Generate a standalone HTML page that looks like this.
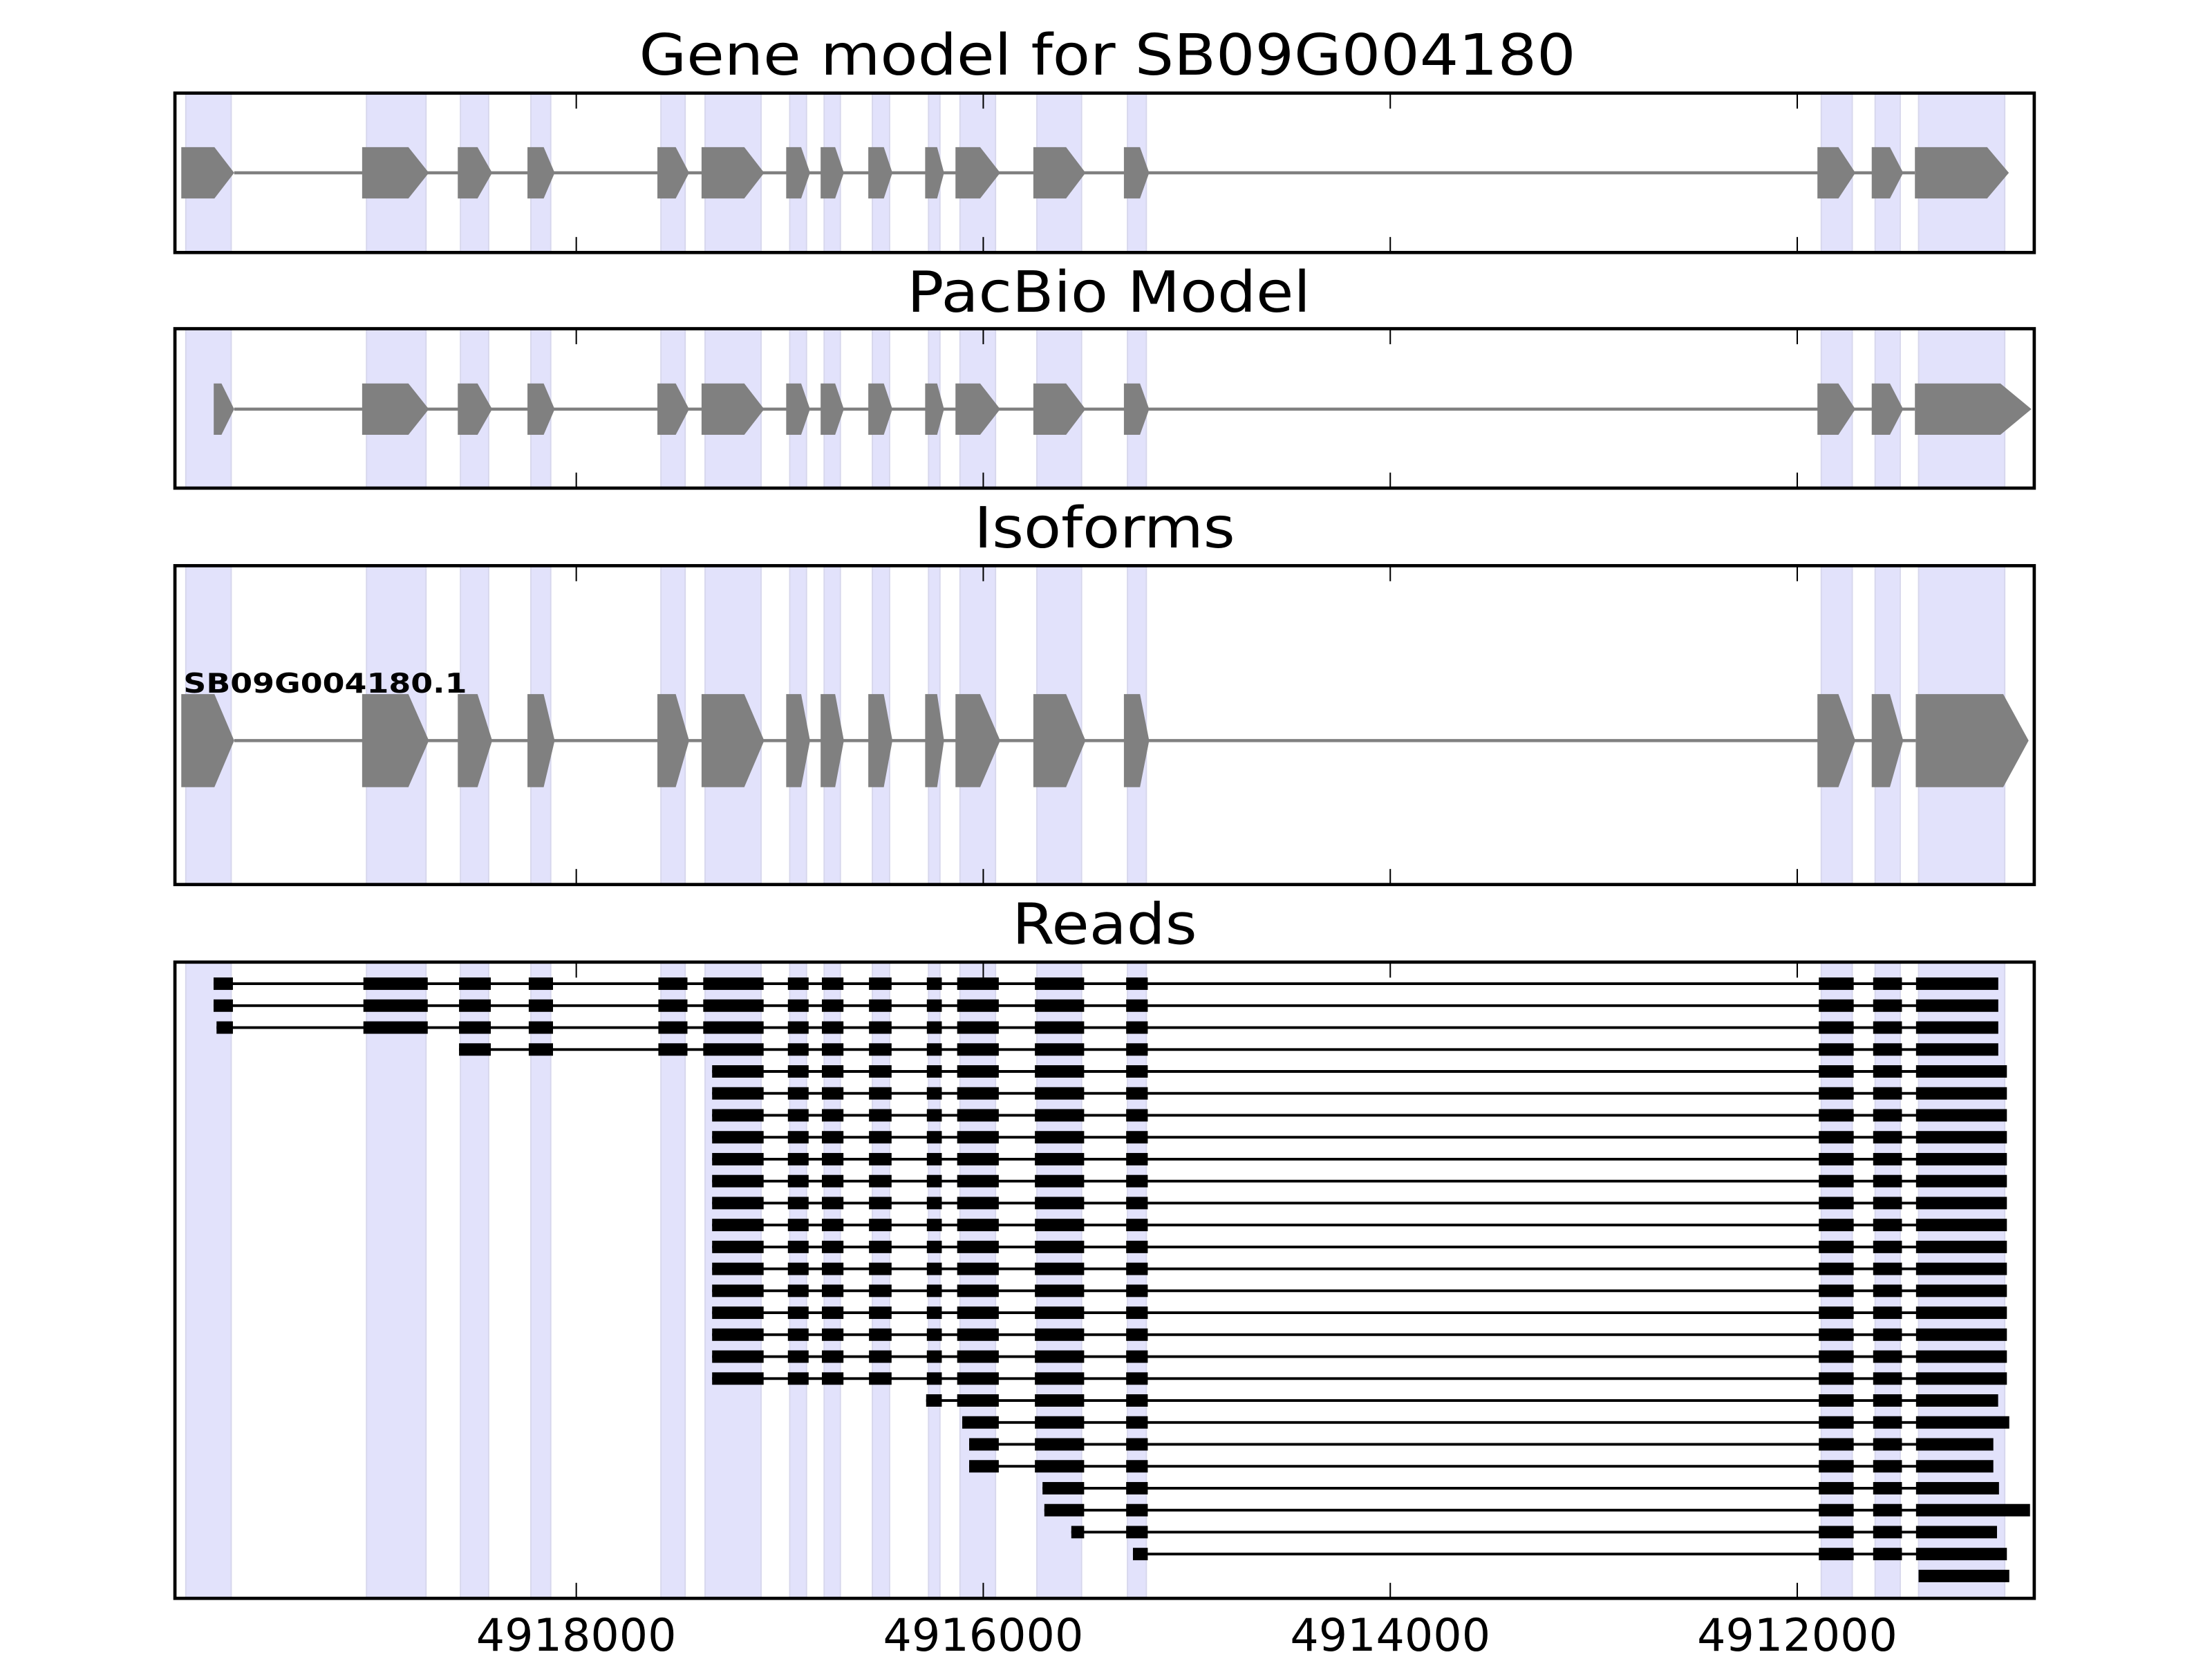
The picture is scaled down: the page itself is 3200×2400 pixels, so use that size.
<!DOCTYPE html>
<html><head><meta charset="utf-8"><style>
html,body{margin:0;padding:0;background:#fff;}
svg{display:block;}
text{font-family:"DejaVu Sans","Liberation Sans",sans-serif;fill:#000;}
</style></head><body>
<svg id="s" xmlns="http://www.w3.org/2000/svg" width="3200" height="2400" viewBox="0 0 1568 1176">
<rect x="0" y="0" width="1568" height="1176" fill="#fff"/>
<g id="shapes"></g>
<text x="785" y="53" font-size="40" text-anchor="middle" textLength="664" lengthAdjust="spacingAndGlyphs">Gene model for SB09G004180</text>
<text x="786" y="221" font-size="40" text-anchor="middle" textLength="286" lengthAdjust="spacingAndGlyphs">PacBio Model</text>
<text x="783" y="388" font-size="40" text-anchor="middle" textLength="185" lengthAdjust="spacingAndGlyphs">Isoforms</text>
<text x="783" y="669" font-size="40" text-anchor="middle" textLength="131" lengthAdjust="spacingAndGlyphs">Reads</text>
<text x="130" y="491" font-size="19" font-weight="bold" textLength="201" lengthAdjust="spacingAndGlyphs">SB09G004180.1</text>
<text x="408.5" y="1170" font-size="32" text-anchor="middle" textLength="142" lengthAdjust="spacingAndGlyphs">4918000</text>
<text x="697" y="1170" font-size="32" text-anchor="middle" textLength="142" lengthAdjust="spacingAndGlyphs">4916000</text>
<text x="985.5" y="1170" font-size="32" text-anchor="middle" textLength="142" lengthAdjust="spacingAndGlyphs">4914000</text>
<text x="1274" y="1170" font-size="32" text-anchor="middle" textLength="142" lengthAdjust="spacingAndGlyphs">4912000</text>
</svg>
<script>
(function(){
var NS="http://www.w3.org/2000/svg",g=document.getElementById("shapes");
function el(t,a){var e=document.createElementNS(NS,t);for(var k in a)e.setAttribute(k,a[k]);g.appendChild(e);return e;}
var L=124,R=1442;
var panels=[[66,179],[233,346],[401,627],[682,1133]];
var S=[[131.7,163.9],[259.8,302],[326.4,346.4],[376.3,390.4],[468.5,485.7],[499.8,539.5],[559.8,571.7],[584.2,595.7],[618.4,630.6],[658.2,666.3],[680.5,705.7],[735,766.7],[799.2,812.6],[1291,1313],[1329.2,1347],[1360,1421.1]];
var ticks=[408.5,697,985.5,1274];
panels.forEach(function(p){
  S.forEach(function(s){el("rect",{x:s[0],y:p[0],width:s[1]-s[0],height:p[1]-p[0],fill:"#e2e2fb",stroke:"#d6d6ec","stroke-width":0.9});});
});
var A=[[128.5,152,166],[256.7,289.5,304],[324.5,338.5,348.9],[373.9,385.4,393.2],[466,479,488.5],[497.3,527.6,541.7],[557.3,567.9,574.2],[581.7,592,598.2],[615.5,626.5,632.6],[655.8,664.3,669.2],[677.3,694.8,709],[732.5,755.7,769.5],[796.7,808.1,814.6],[1288.3,1303.2,1315.2],[1326.8,1339.7,1349.1],[1357.4,1408.6,1424]];
function gene(arr,yc,h){
  el("line",{x1:arr[0][2],x2:arr[arr.length-1][0],y1:yc,y2:yc,stroke:"#808080","stroke-width":2.2});
  arr.forEach(function(a){
    el("polygon",{points:a[0]+","+(yc-h)+" "+a[1]+","+(yc-h)+" "+a[2]+","+yc+" "+a[1]+","+(yc+h)+" "+a[0]+","+(yc+h),fill:"#808080"});
  });
}
gene(A,122.5,18.2);
var A2=A.map(function(a){return a.slice();});A2[0]=[151.5,157,166];A2[15]=[1357.4,1418,1440];
gene(A2,290,18.2);
var A3=A.map(function(a){return a.slice();});A3[15]=[1358,1420,1438];
gene(A3,525,33);
var E=[[151.4,165.1],[257.6,303.2],[325.4,347.9],[374.8,392],[466.7,487.3],[498.5,541.3],[558.5,573.2],[582.6,597.9],[616,632],[657,667.6],[678.5,708],[733.6,768.5],[798.3,813.6],[1289.3,1314],[1327.8,1348.2],[1358.2,1417]];
var rows=[];
function R_(si,st,en){rows.push([si,st,en]);}
R_(0,151.4,1416.5);R_(0,151.4,1416.5);R_(0,153.5,1416.5);R_(2,325.4,1416.5);
for(var i=0;i<15;i++)R_(5,504.8,1422.6);
R_(9,656.5,1416.4);R_(10,682.1,1424.3);R_(10,687,1413);R_(10,687,1413);
R_(11,739,1417);R_(11,740.3,1439);R_(11,759.4,1415.6);R_(12,803.1,1422.6);
rows.forEach(function(r,i){
  var y=697.3+15.55*i;
  el("line",{x1:r[1],x2:1360,y1:y,y2:y,stroke:"#000","stroke-width":1.9});
  for(var k=r[0];k<16;k++){
    var x0=E[k][0],x1=E[k][1];
    if(k==r[0])x0=r[1];
    if(k==15)x1=r[2];
    el("rect",{x:x0,y:y-4.4,width:x1-x0,height:8.8,fill:"#000"});
  }
});
var y27=697.3+15.55*27;
el("rect",{x:1360,y:y27-4.4,width:64.3,height:8.8,fill:"#000"});
panels.forEach(function(p){
  ticks.forEach(function(t){
    el("line",{x1:t,x2:t,y1:p[0],y2:p[0]+11,stroke:"#000","stroke-width":1});
    el("line",{x1:t,x2:t,y1:p[1],y2:p[1]-11,stroke:"#000","stroke-width":1});
  });
  el("rect",{x:L,y:p[0],width:R-L,height:p[1]-p[0],fill:"none",stroke:"#000","stroke-width":2.3});
});
})();
</script>
</body></html>
